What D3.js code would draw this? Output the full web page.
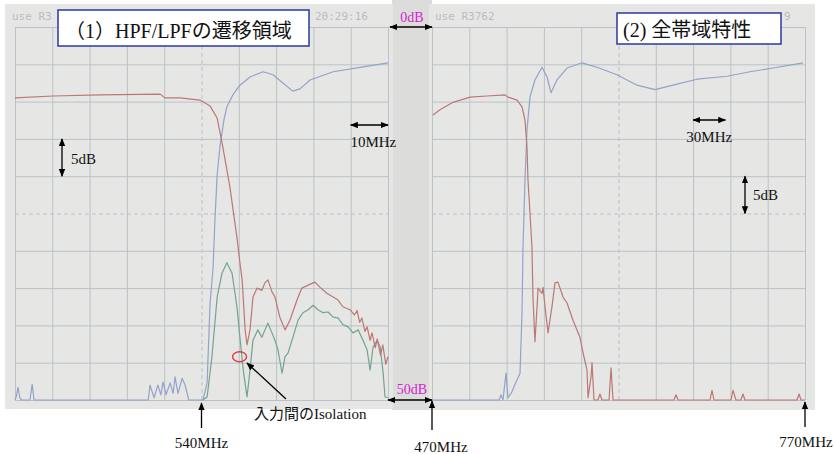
<!DOCTYPE html>
<html>
<head>
<meta charset="utf-8">
<script src="https://cdn.jsdelivr.net/npm/d3@7"></script>
<style>
  body { margin: 0; background: #fff; }
  svg { display: block; }
</style>
</head>
<body>
<script>
// ---- data read off the two analyzer screens (MHz, dB relative to top line) ----
// (1) transition region: 490-590 MHz, 10 MHz/div
const narrowLpf = [[490,-9.5],[500.2,-9.25],[512.8,-9.1],[528.9,-9.0],[530.2,-9.5],[534.2,-9.5],[539.6,-9.8],
  [542.3,-10.6],[544.2,-12.2],[545.5,-15.5],[547.6,-21.4],[549.5,-28.2],[550.3,-31.6],[550.9,-33.9],[551.7,-40.6],
  [552.2,-42.6],[553.0,-40.6],[553.8,-36.2],[554.9,-35.0],[556.2,-35.3],[557.0,-34.3],[557.8,-33.9],[558.9,-35.5],
  [559.7,-36.2],[561.0,-38.9],[562.4,-40.6],[563.7,-39.3],[565.6,-36.6],[566.9,-35.0],[568.6,-34.6],[570.4,-34.2],
  [571.8,-34.9],[573.6,-35.7],[575.3,-36.2],[576.6,-36.6],[577.9,-37.5],[579.8,-37.9],[581.0,-38.6],[581.7,-38.0],
  [582.4,-39.6],[583.0,-39.0],[583.8,-40.8],[584.4,-40.2],[585.2,-42.0],[585.7,-41.0],[586.6,-43.0],[587.1,-41.8],
  [588.0,-44.0],[588.6,-42.6],[589.4,-45.2],[590,-44.2]];
const narrowHpf = [[490,-50],[490.3,-49.6],[490.8,-48.3],[491.3,-49.7],[491.8,-50],[494.0,-50],[494.6,-47.9],
  [495.1,-50],[525.7,-50],[526.2,-48.0],[527.3,-49.7],[528.3,-48.0],[529.1,-49.3],[529.7,-47.6],[530.5,-49.3],
  [531.6,-47.7],[532.4,-49.1],[532.9,-46.9],[533.7,-49.1],[534.8,-47.1],[535.6,-48.0],[536.6,-50],[540.4,-50],
  [541.5,-47.7],[542.3,-37.0],[543.1,-32.3],[543.6,-25.9],[544.2,-19.8],[545.0,-15.8],[546.0,-12.5],[546.8,-10.7],
  [548.4,-9.1],[550.3,-7.8],[553.0,-6.7],[556.5,-6.0],[559.2,-6.4],[561.8,-7.5],[564.5,-8.6],[566.4,-8.3],
  [569.1,-7.1],[575.3,-6.0],[582.5,-5.4],[590,-4.8]];
const narrowIsolation = [[540.4,-50],[541.5,-49.6],[542.8,-44.2],[544.2,-36.2],[545.5,-33.0],[546.8,-31.6],
  [548.2,-33.0],[549.5,-37.5],[550.3,-41.6],[551.2,-46.0],[552.2,-49.6],[553.0,-46.0],[553.8,-42.0],[555.1,-40.6],
  [556.2,-41.6],[557.0,-40.6],[557.8,-39.7],[558.9,-41.0],[559.7,-42.0],[560.5,-43.3],[561.6,-46.4],[562.4,-44.2],
  [563.2,-43.7],[564.5,-41.6],[565.9,-39.3],[567.2,-38.3],[568.6,-37.9],[569.9,-37.3],[571.2,-37.9],[572.6,-38.3],
  [573.9,-38.2],[575.3,-38.9],[576.6,-39.0],[577.9,-39.9],[579.3,-40.2],[580.6,-41.0],[582.0,-40.6],[583.3,-42.0],
  [584.4,-43.3],[585.2,-46.0],[586.0,-42.9],[587.1,-42.0],[587.9,-42.9],[588.7,-46.4],[589.2,-49.6],[590,-49.7]];

// (2) whole band: 470-770 MHz, 30 MHz/div
const wideLpf = [[470.8,-11.8],[476.4,-11.1],[486.9,-10.1],[500.6,-9.4],[514.2,-9.25],[528.7,-9.1],[531.1,-9.4],
  [538.4,-9.8],[542.4,-10.7],[544.8,-12.5],[546.4,-16.1],[547.2,-20.5],[548.8,-24.9],[550.4,-29.5],[551.2,-36.2],
  [552.8,-42.2],[554.5,-37.5],[555.3,-35.0],[558.5,-35.7],[559.3,-34.9],[560.9,-37.5],[563.3,-41.0],[566.5,-37.5],
  [568.9,-34.3],[571.3,-34.2],[575.4,-36.2],[578.6,-37.0],[583.4,-39.3],[589.0,-41.6],[591.5,-43.7],[594.7,-46.0],
  [595.5,-49.7],[597.9,-46.9],[598.7,-45.0],[600.3,-50],[603.5,-50],[605.1,-49.2],[606.7,-50],[612.4,-50],
  [614.0,-45.7],[615.6,-50],[664.6,-50],[666.3,-49.3],[667.9,-50],[693.6,-50],[695.2,-48.7],[696.8,-50],
  [710.5,-50],[712.1,-48.7],[714.5,-50],[718.5,-50],[720.1,-49.2],[721.7,-50],[763.6,-50],[765.2,-49.2],
  [766.8,-50],[770,-50]];
const wideHpf = [[470,-50],[523.9,-50],[525.5,-49.3],[527.1,-50],[529.5,-46.4],[531.1,-49.7],[534.3,-48.9],
  [536.8,-47.9],[538.4,-47.3],[540.8,-46.4],[542.4,-38.3],[543.2,-29.5],[544.8,-20.5],[546.4,-13.8],[548.8,-9.4],
  [552.8,-7.1],[558.5,-5.4],[562.5,-6.7],[565.7,-8.8],[570.5,-7.1],[578.6,-5.5],[590.6,-4.8],[602.7,-5.4],
  [618.8,-6.4],[634.9,-7.8],[649.4,-8.4],[663.8,-7.8],[683.1,-7.0],[707.3,-6.6],[725.8,-6.0],[744.3,-5.5],
  [768.4,-4.8]];

const narrowTicks = d3.range(490, 591, 10);
const wideTicks = d3.range(470, 771, 30);
const dbTicks = d3.range(-50, 1, 5);

// ---- layout ----
const width = 835, height = 454;
const plotTop = 27, plotBottom = 400;
const colors = { lpf: "#bd7676", hpf: "#93a2c8", iso: "#72a392", grid: "#b9c2c8", bg: "#e6e7e4" };
const latin = "'Liberation Serif', 'Times New Roman', serif";
const jp = "'Liberation Serif', 'Noto Sans CJK JP', serif";

const y = d3.scaleLinear([-50, 0], [plotBottom, plotTop]);
const xL = d3.scaleLinear([490, 590], [15, 388]);
const xR = d3.scaleLinear([470, 770], [432, 805]);

const svg = d3.select("body").append("svg")
  .attr("width", width).attr("height", height)
  .attr("viewBox", [0, 0, width, height]);

const defs = svg.append("defs");
defs.append("marker").attr("id", "ah")
  .attr("viewBox", "0 0 10 10").attr("refX", 9).attr("refY", 5)
  .attr("markerWidth", 8).attr("markerHeight", 8)
  .attr("markerUnits", "userSpaceOnUse")
  .attr("orient", "auto-start-reverse")
  .append("path").attr("d", "M0,1L10,5L0,9z").attr("fill", "#000");

// backgrounds
svg.append("rect").attr("x", 392).attr("y", 0).attr("width", 40).attr("height", 410).attr("fill", "#dcdcda");
svg.append("rect").attr("x", 5).attr("y", 4).attr("width", 388).attr("height", 405).attr("fill", colors.bg);
svg.append("rect").attr("x", 429).attr("y", 4).attr("width", 386).attr("height", 406).attr("fill", colors.bg);

// faint screen headers (mostly hidden behind the title boxes)
const faint = svg.append("g").attr("fill", "#b9bcbf").attr("font-family", "'DejaVu Sans Mono', monospace").attr("font-size", 11);
faint.append("text").attr("x", 12).attr("y", 20).text("use R3");
faint.append("text").attr("x", 315).attr("y", 20).text("20:29:16");
faint.append("text").attr("x", 435).attr("y", 20).text("use R3762");
faint.append("text").attr("x", 784).attr("y", 20).text("9");

function grid(x, ticks, center) {
  const g = svg.append("g");
  g.append("g")
    .attr("transform", `translate(0,${plotBottom})`)
    .call(d3.axisBottom(x).tickValues(ticks).tickSize(-(plotBottom - plotTop)).tickFormat(""))
    .call(a => a.select(".domain").remove())
    .call(a => a.selectAll("line").attr("stroke", colors.grid)
      .attr("stroke-dasharray", d => d === center ? "4,3" : null));
  g.append("g")
    .attr("transform", `translate(${x.range()[0]},0)`)
    .call(d3.axisLeft(y).tickValues(dbTicks).tickSize(-(x.range()[1] - x.range()[0])).tickFormat(""))
    .call(a => a.select(".domain").remove())
    .call(a => a.selectAll("line").attr("stroke", colors.grid)
      .attr("stroke-dasharray", d => d === -25 ? "4,3" : null));
}
grid(xL, narrowTicks, 540);
grid(xR, wideTicks, 620);

function trace(x, data, color) {
  svg.append("path")
    .datum(data)
    .attr("fill", "none")
    .attr("stroke", color)
    .attr("stroke-width", 1.2)
    .attr("stroke-linejoin", "round")
    .attr("d", d3.line().x(d => x(d[0])).y(d => y(d[1])));
}
trace(xL, narrowIsolation, colors.iso);
trace(xL, narrowHpf, colors.hpf);
trace(xL, narrowLpf, colors.lpf);
trace(xR, wideHpf, colors.hpf);
trace(xR, wideLpf, colors.lpf);

// ---- annotations ----
const ann = svg.append("g");
function arrow(x1, y1, x2, y2, both) {
  ann.append("line").attr("x1", x1).attr("y1", y1).attr("x2", x2).attr("y2", y2)
    .attr("stroke", "#000").attr("stroke-width", 1.3)
    .attr("marker-end", "url(#ah)")
    .attr("marker-start", both ? "url(#ah)" : null);
}
function label(x, yy, txt, opts = {}) {
  return ann.append("text").attr("x", x).attr("y", yy)
    .attr("font-family", opts.font || latin)
    .attr("font-size", opts.size || 15)
    .attr("fill", opts.fill || "#111")
    .attr("text-anchor", opts.anchor || "start")
    .text(txt);
}

// title boxes
ann.append("rect").attr("x", 58).attr("y", 10).attr("width", 251).attr("height", 36)
  .attr("fill", "#fff").attr("stroke", "#2b3a9c").attr("stroke-width", 1.5);
label(65, 38, "（1）HPF/LPFの遷移領域", { font: jp, size: 20 });
ann.append("rect").attr("x", 617).attr("y", 13).attr("width", 164).attr("height", 31)
  .attr("fill", "#fff").attr("stroke", "#2b3a9c").attr("stroke-width", 1.5);
label(623, 37, "(2) 全帯域特性", { font: jp, size: 20 });

// reference level markers
arrow(390, y(0), 432, y(0), true);
label(412, 22, "0dB", { fill: "#d424d4", anchor: "middle", size: 14 });
arrow(388, y(-50), 432, y(-50), true);
label(412, 394, "50dB", { fill: "#d424d4", anchor: "middle", size: 14 });

// scale markers
arrow(62, y(-15), 62, y(-20), true);
label(71, 164, "5dB");
arrow(xL(580), 125, xL(590), 125, true);
label(xL(585) + 4, 147, "10MHz", { anchor: "middle" });
arrow(xR(680), 120, xR(706), 120, true);
label(xR(693), 142, "30MHz", { anchor: "middle" });
arrow(745, y(-20), 745, y(-25), true);
label(753, 200, "5dB");

// frequency markers
arrow(xL(540), 428, xL(540), 403);
label(xL(540), 448, "540MHz", { anchor: "middle" });
arrow(xR(470), 430, xR(470), 401);
label(xR(470) + 9, 452, "470MHz", { anchor: "middle" });
arrow(xR(770), 427, xR(770), 402);
label(806, 447, "770MHz", { anchor: "middle" });

// isolation callout
ann.append("ellipse").attr("cx", xL(550.2)).attr("cy", y(-44.2)).attr("rx", 7).attr("ry", 5)
  .attr("fill", "none").attr("stroke", "#e23a3a").attr("stroke-width", 1.4);
arrow(286, 399, 247, 363);
label(254, 419, "入力間のIsolation", { font: jp, size: 15 });
</script>
</body>
</html>
